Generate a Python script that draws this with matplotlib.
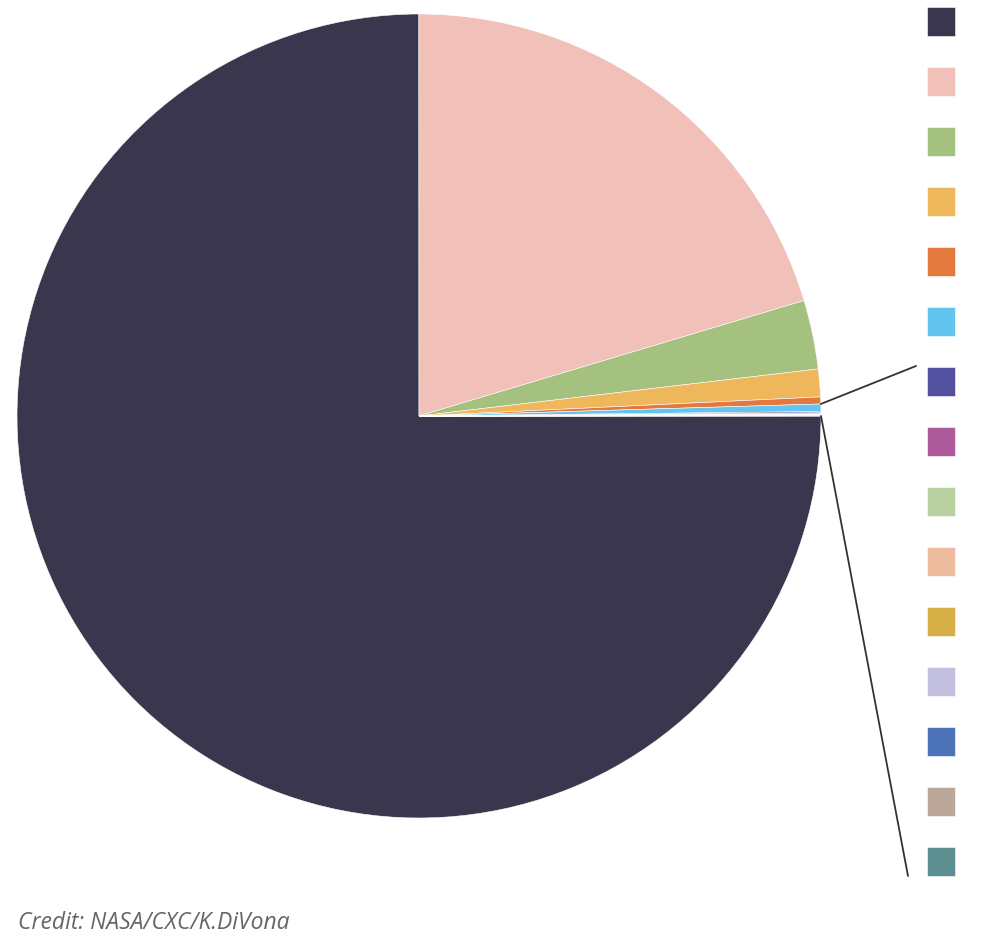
import matplotlib
matplotlib.use("Agg")
import matplotlib.pyplot as plt
import numpy as np

# slice shares (percent)
shares = [75.0, 20.37, 2.77, 1.11, 0.28, 0.30, 0.05, 0.04, 0.03, 0.015, 0.012, 0.01, 0.008, 0.006, 0.005]
colors = [
    "#3a364d", "#f0c0b9", "#a5c17f", "#efb75b", "#e3793f",
    "#62c4ef", "#5450a0", "#ac5a9a", "#b9d1a1", "#eebda0",
    "#d7af47", "#c3bfdf", "#4d73b8", "#bca89a", "#5e8f90",
]
labels = [""] * len(shares)
credit = "Credit: NASA/CXC/K.DiVona"

W, H = 982, 952
fig = plt.figure(figsize=(W / 100, H / 100), dpi=100)

cx, cy, r = 419, 416, 402
ax = fig.add_axes([(cx - r) / W, 1 - (cy + r) / H, 2 * r / W, 2 * r / H])
wedges, _ = ax.pie(shares, colors=colors, startangle=0, counterclock=False,
                   radius=1, wedgeprops=dict(edgecolor="white", linewidth=0.4))
ax.set_xlim(-1, 1)
ax.set_ylim(-1, 1)
ax.set_aspect("equal")
ax.axis("off")

# bracket lines from the small slices (from light blue onwards) out to the right
total = sum(shares)
a1 = np.deg2rad(-360 * sum(shares[:5]) / total)
a2 = np.deg2rad(-360 * sum(shares) / total)
p1 = (np.cos(a1), np.sin(a1))
p2 = (np.cos(a2), np.sin(a2))
line_style = dict(arrowstyle="-", color="#333333", lw=1.3, shrinkA=0, shrinkB=0)
ax.annotate("", xy=(916 / W, 1 - 366 / H), xycoords="figure fraction", xytext=p1,
            textcoords="data", arrowprops=line_style)
ax.annotate("", xy=(908 / W, 1 - 876 / H), xycoords="figure fraction", xytext=p2,
            textcoords="data", arrowprops=line_style)

fs = 10
fig.legend(wedges, labels, loc="upper left", bbox_to_anchor=(927 / W, 1 - 7 / H),
           frameon=False, fontsize=fs, handlelength=2.0, handleheight=2.85,
           labelspacing=2.22, borderpad=0, borderaxespad=0, handletextpad=0)

fig.text(18 / W, 1 - 929 / H, credit, fontsize=16.5, style="italic", color="#666666",
         family="Open Sans", va="baseline", ha="left")

fig.savefig("out.png", dpi=100)
